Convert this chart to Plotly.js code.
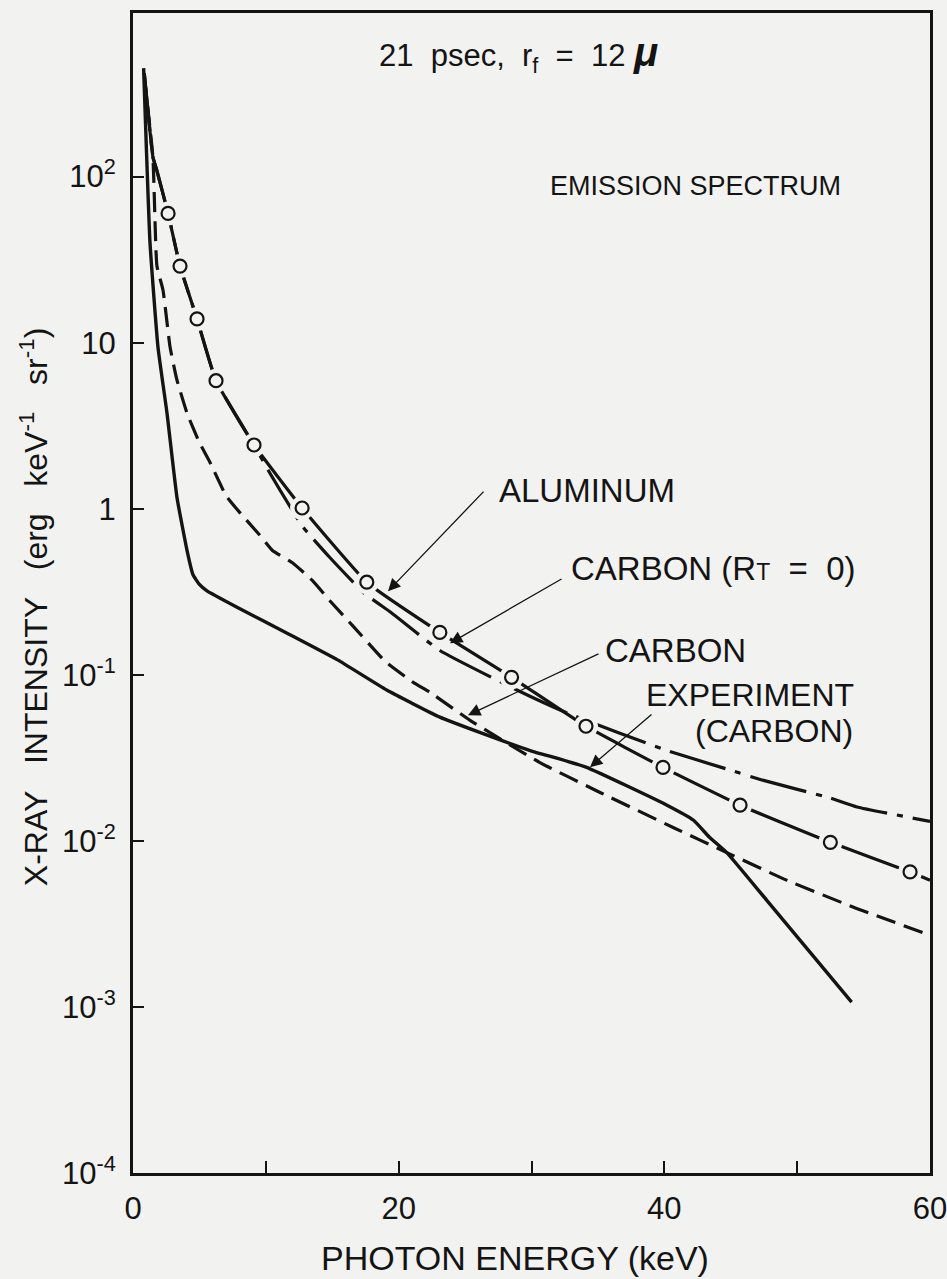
<!DOCTYPE html>
<html>
<head>
<meta charset="utf-8">
<script src="https://cdn.plot.ly/plotly-3.0.1.min.js"></script>
<style>html,body{margin:0;padding:0;background:#f2f2f0;}</style>
</head>
<body>
<div id="chart" style="width:947px;height:1279px;"></div>
<script>
// ---- data (photon energy keV, intensity erg keV^-1 sr^-1) ----
const experimentX = [0.8, 1.28, 1.88, 2.56, 3.31, 4.07, 4.52, 5.0, 5.57, 7.83, 11.6, 15.4, 19.1, 23.1, 26.1, 29.9, 34.1, 40.2, 42.2, 43.4, 44.7, 47.7, 54.1];
const experimentY = [450, 40, 9.4, 3.76, 1.17, 0.56, 0.40, 0.35, 0.32, 0.255, 0.178, 0.123, 0.081, 0.0556, 0.045, 0.035, 0.0278, 0.0164, 0.0133, 0.0105, 0.0085, 0.0044, 0.00107];

const carbonX = [0.85, 1.5, 1.8, 2.26, 2.79, 3.3, 4.07, 5.0, 5.8, 7.0, 8.06, 9.5, 10.5, 12.05, 13.5, 14.8, 16.6, 19.0, 21.1, 22.4, 25.4, 30.6, 35.2, 40.7, 44.7, 49.2, 54.2, 60];
const carbonY = [400, 130, 29, 20.7, 9.4, 6.0, 3.76, 2.5, 1.9, 1.2, 0.944, 0.7, 0.56, 0.47, 0.37, 0.28, 0.195, 0.12, 0.09, 0.078, 0.053, 0.0297, 0.0195, 0.012, 0.0085, 0.0058, 0.004, 0.0027];

const carbonRT0X = [0.85, 1.5, 1.78, 2.64, 3.54, 4.82, 6.25, 9.11, 10.3, 12.8, 14.8, 17.4, 19.4, 23.1, 28.9, 32.7, 40.1, 44.95, 47.4, 52.5, 54.5, 60];
const carbonRT0Y = [420, 131, 110, 60, 28.9, 13.9, 5.9, 2.42, 1.64, 0.776, 0.51, 0.31, 0.238, 0.14, 0.081, 0.0588, 0.0352, 0.0267, 0.0232, 0.0181, 0.016, 0.0131];

const aluminumX = [0.85, 1.5, 1.78, 2.64, 3.54, 4.82, 6.25, 9.11, 12.73, 17.6, 23.1, 28.5, 34.1, 39.9, 45.7, 52.5, 58.5, 60];
const aluminumY = [420, 131, 110, 60, 28.9, 13.9, 5.9, 2.42, 1.01, 0.361, 0.18, 0.0966, 0.049, 0.0277, 0.0164, 0.0098, 0.0065, 0.0058];

const circleX = [2.64, 3.54, 4.82, 6.25, 9.11, 12.73, 17.6, 23.1, 28.5, 34.1, 39.9, 45.7, 52.5, 58.5];
const circleY = [60, 28.9, 13.9, 5.9, 2.42, 1.01, 0.361, 0.18, 0.0966, 0.049, 0.0277, 0.0164, 0.0098, 0.0065];

const xTickVals = [0, 20, 40, 60];
const xTickText = ['0', '20', '40', '60'];
const yTickVals = [1e-4, 1e-3, 1e-2, 1e-1, 1, 10, 100];
const yTickText = ['10<sup>-4</sup>', '10<sup>-3</sup>', '10<sup>-2</sup>', '10<sup>-1</sup>', '1', '10', '10<sup>2</sup>'];

// ---- styling ----
const INK = '#141414';
const BG = '#f2f2f0';
const FONT = 'Liberation Sans, Arial, Helvetica, sans-serif';

const traces = [
  {x: aluminumX, y: aluminumY, mode: 'lines', line: {color: INK, width: 3.2, shape: 'spline', smoothing: 0.4}, hoverinfo: 'skip'},
  {x: carbonRT0X, y: carbonRT0Y, mode: 'lines', line: {color: INK, width: 3.2, dash: '58px,10px,6px,10px', shape: 'spline', smoothing: 0.4}, hoverinfo: 'skip'},
  {x: circleX, y: circleY, mode: 'markers', marker: {size: 24, color: BG, line: {width: 0}}, hoverinfo: 'skip'},
  {x: carbonX, y: carbonY, mode: 'lines', line: {color: INK, width: 3.2, dash: '20px,9px', shape: 'spline', smoothing: 0.4}, hoverinfo: 'skip'},
  {x: experimentX, y: experimentY, mode: 'lines', line: {color: INK, width: 3.4, shape: 'spline', smoothing: 0.4}, hoverinfo: 'skip'},
  {x: circleX, y: circleY, mode: 'markers', marker: {size: 13, color: BG, line: {width: 2.2, color: INK}}, hoverinfo: 'skip'}
];

// pixel -> paper helpers for label placement
const L = 133, T = 13, W = 797, H = 1159.7;
const xp = px => (px - L) / W;
const yp = py => (T + H - py) / H;

function label(text, px, py, anchor, size, angle) {
  return {text: text, xref: 'paper', yref: 'paper', x: xp(px), y: yp(py),
          xanchor: anchor, yanchor: 'middle', showarrow: false, textangle: angle || 0,
          font: {family: FONT, size: size, color: INK}};
}
function arrow(tipX, tipY, tailX, tailY) {
  return {text: '', xref: 'paper', yref: 'paper', x: xp(tipX), y: yp(tipY),
          ax: tailX - tipX, ay: tailY - tipY, showarrow: true,
          arrowhead: 2, arrowsize: 1.9, arrowwidth: 1.3, arrowcolor: INK, standoff: 0};
}

const annotations = [
  label('21&nbsp; psec,&nbsp; r<sub>f</sub>&nbsp; =&nbsp; 12&nbsp;<span style="font-size:40px"><b><i>μ</i></b></span>', 377, 54, 'left', 31),
  label('EMISSION SPECTRUM', 548, 186, 'left', 27),
  label('ALUMINUM', 497, 490, 'left', 33),
  label('CARBON (R<span style="font-size:23px">T</span>&nbsp; =&nbsp; 0)', 569, 568, 'left', 33),
  label('CARBON', 603, 650, 'left', 33),
  label('EXPERIMENT', 856, 695, 'right', 32),
  label('(CARBON)', 855, 731, 'right', 32),
  label('PHOTON ENERGY (keV)', 515, 1258, 'center', 34),
  label('X-RAY&nbsp;&nbsp; INTENSITY&nbsp;&nbsp; (erg&nbsp;&nbsp; keV<sup>-1</sup>&nbsp;&nbsp; sr<sup>-1</sup>)', 34, 607, 'center', 32, -90),
  arrow(388, 591, 485, 490),
  arrow(450, 643, 563, 578),
  arrow(468, 715, 600, 653),
  arrow(590, 767, 653, 713)
];

const layout = {
  width: 947, height: 1279,
  margin: {l: 133, r: 17, t: 13, b: 106.3},
  paper_bgcolor: BG, plot_bgcolor: BG,
  showlegend: false,
  font: {family: FONT, color: INK},
  xaxis: {
    range: [-0.0001, 60.0001], tickmode: 'array', tickvals: xTickVals, ticktext: xTickText,
    ticks: 'inside', ticklen: 12, tickwidth: 2, tickcolor: INK,
    minor: {dtick: 10, tick0: 0, ticks: 'inside', ticklen: 12, tickwidth: 2, tickcolor: INK, showgrid: false},
    showline: true, linewidth: 3, linecolor: INK, mirror: true,
    showgrid: false, zeroline: false, ticklabelstandoff: 6, ticklabeloverflow: 'allow',
    tickfont: {family: FONT, size: 31, color: INK}
  },
  yaxis: {
    type: 'log', range: [-4, 2.985], tickmode: 'array', tickvals: yTickVals, ticktext: yTickText,
    ticks: 'inside', ticklen: 11, tickwidth: 2, tickcolor: INK,
    showline: true, linewidth: 3, linecolor: INK, mirror: true,
    showgrid: false, zeroline: false, ticklabelstandoff: 8, ticklabeloverflow: 'allow',
    tickfont: {family: FONT, size: 31, color: INK}
  },
  annotations: annotations
};

Plotly.newPlot('chart', traces, layout, {displayModeBar: false, staticPlot: true});
</script>
</body>
</html>
